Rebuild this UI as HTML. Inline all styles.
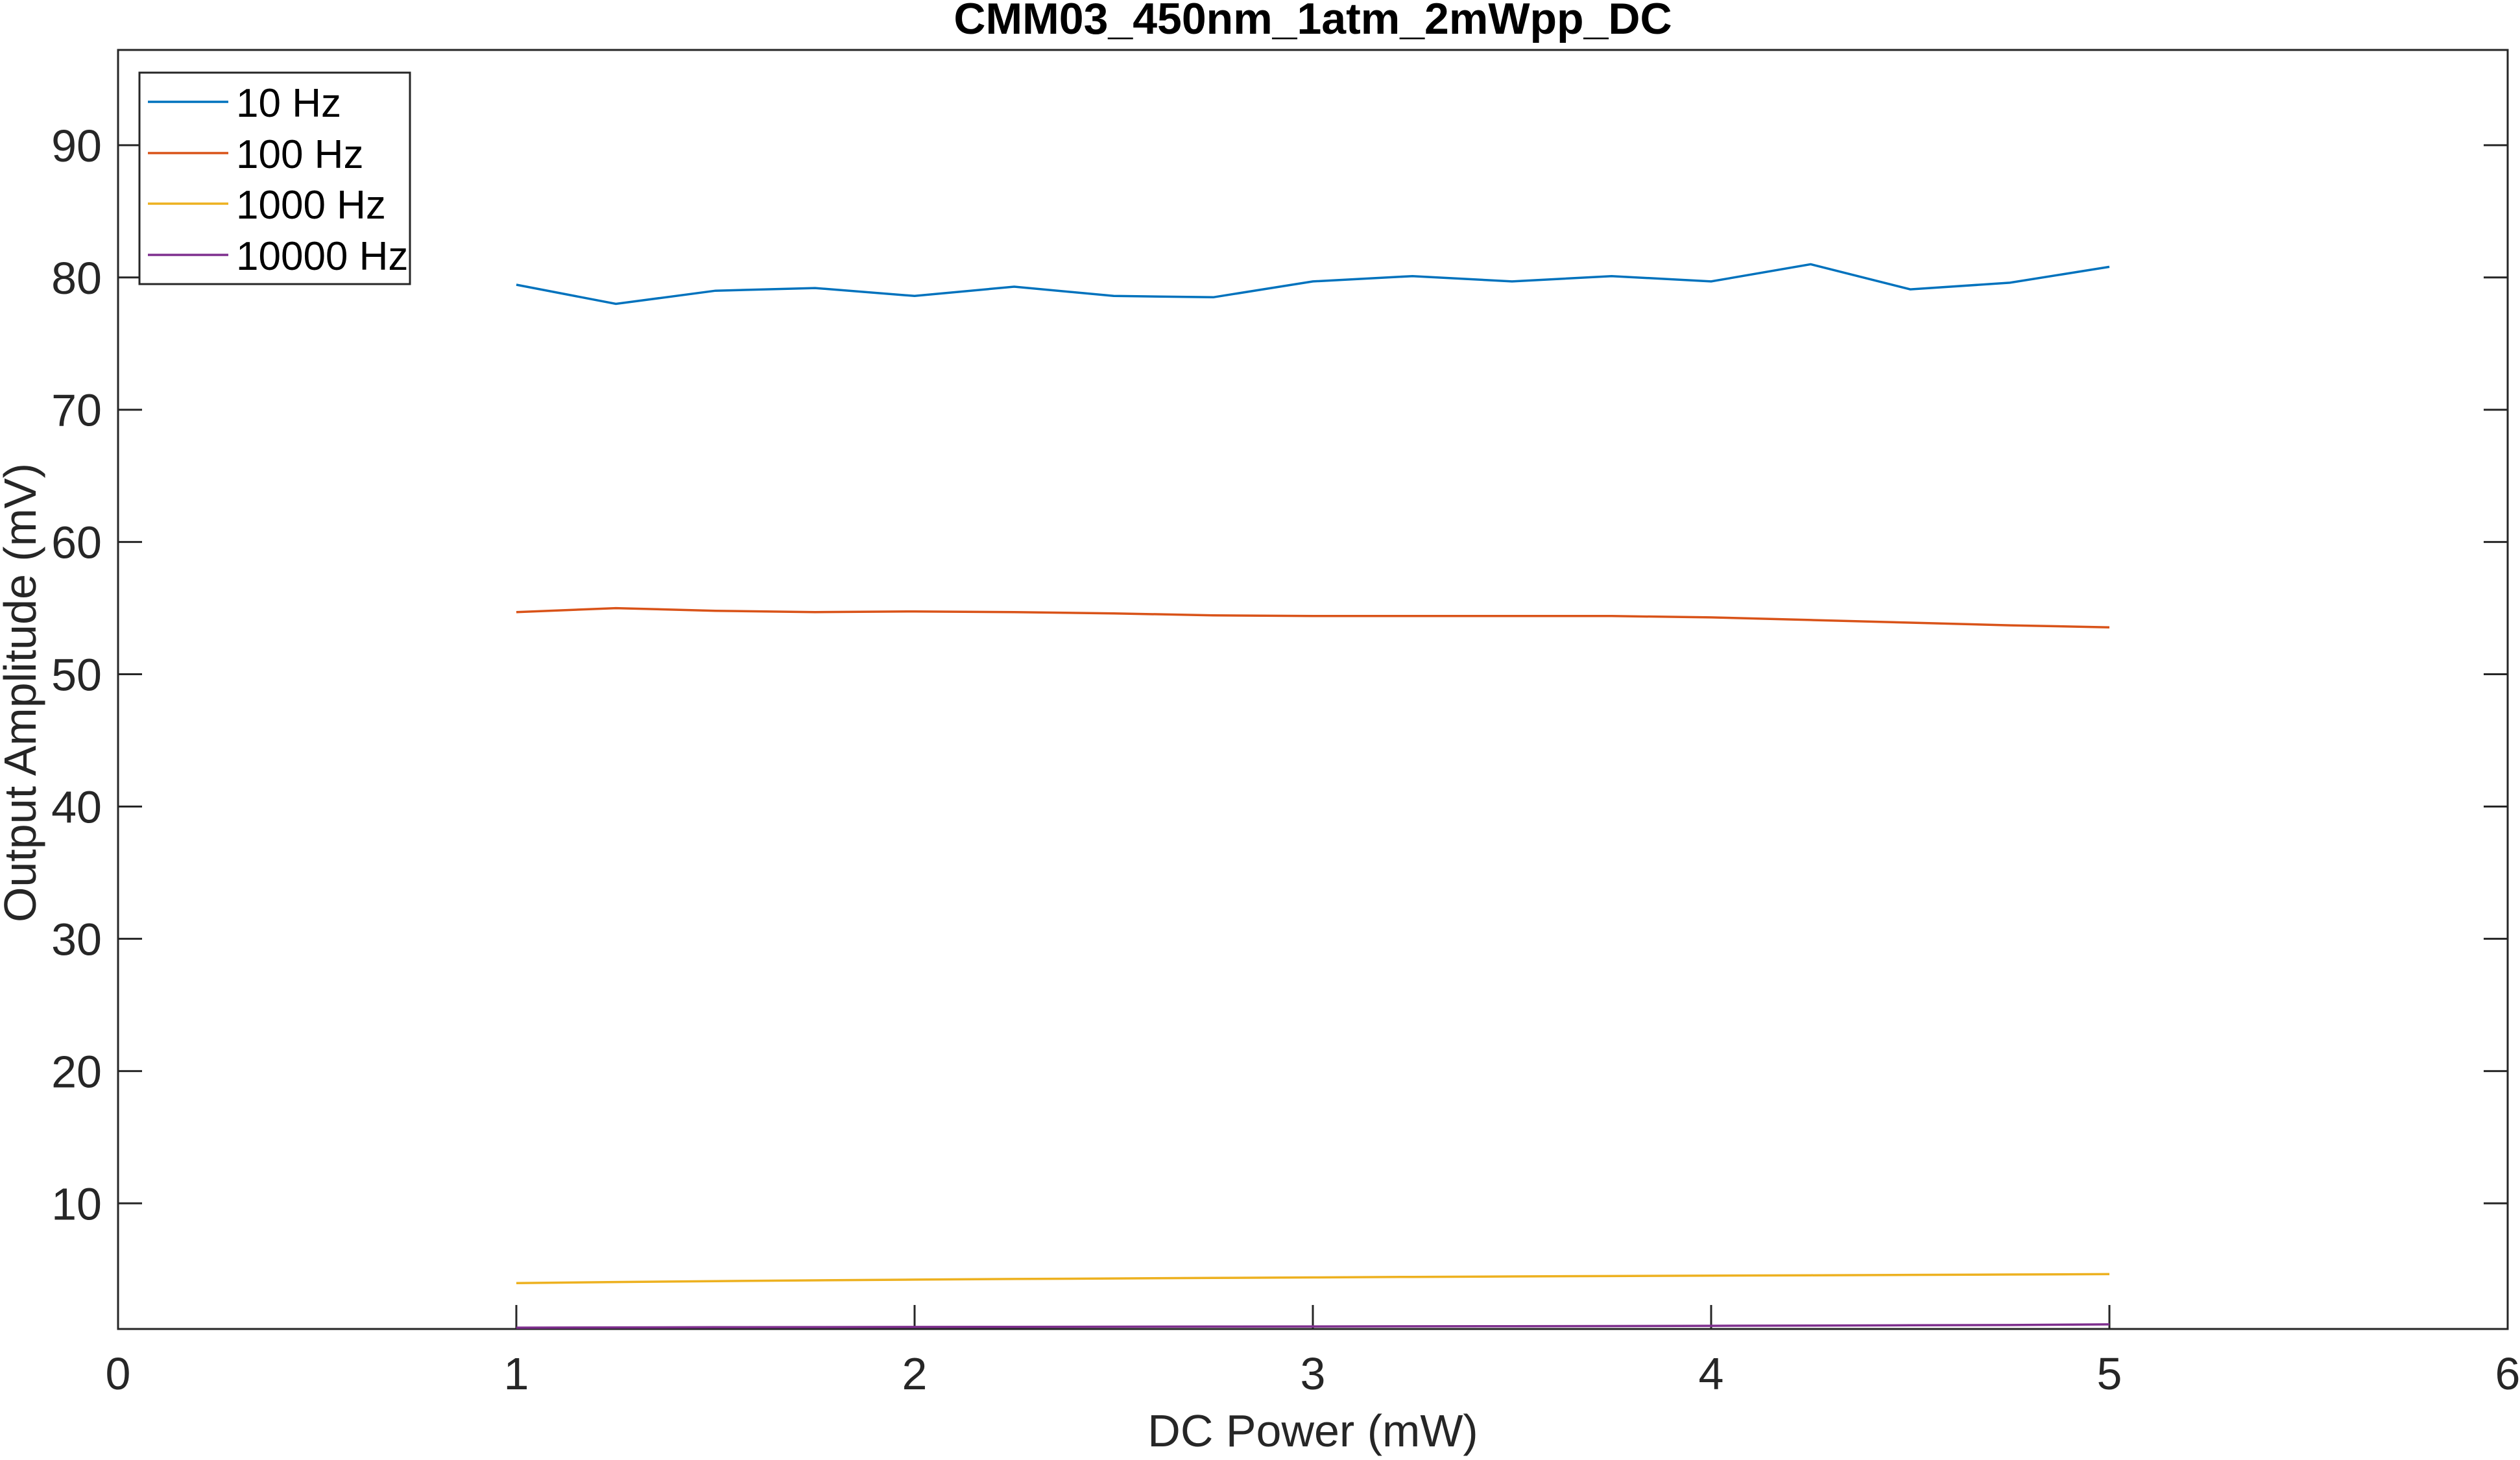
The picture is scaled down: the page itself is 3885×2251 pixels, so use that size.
<!DOCTYPE html>
<html><head><meta charset="utf-8"><style>
html,body{margin:0;padding:0;background:#fff}
svg{display:block;font-family:"Liberation Sans",Arial,sans-serif}
</style></head><body>
<svg id="chart" width="3885" height="2251" viewBox="0 0 3885 2251" xmlns="http://www.w3.org/2000/svg">
<rect x="0" y="0" width="3885" height="2251" fill="#fff"/>
<text x="2024" y="52" text-anchor="middle" font-size="68" font-weight="bold" fill="#000">CMM03_450nm_1atm_2mWpp_DC</text>
<g id="plot"></g>
<text x="2024" y="2230" text-anchor="middle" font-size="70" fill="#262626">DC Power (mW)</text>
<text transform="translate(55,1068) rotate(-90)" text-anchor="middle" font-size="70" fill="#262626">Output Amplitude (mV)</text>
<g id="legend"></g>
</svg>
<script>
const xValues = [1,1.25,1.5,1.75,2,2.25,2.5,2.75,3,3.25,3.5,3.75,4,4.25,4.5,4.75,5];
const s10 = [79.45,78.0,79.0,79.2,78.6,79.3,78.6,78.5,79.7,80.1,79.7,80.1,79.7,81.0,79.1,79.6,80.8];
const s100 = [54.7,55.0,54.8,54.7,54.75,54.7,54.6,54.45,54.4,54.4,54.4,54.4,54.3,54.1,53.9,53.7,53.55];
const s1000 = [3.97,4.05,4.12,4.18,4.23,4.28,4.32,4.36,4.4,4.44,4.47,4.5,4.53,4.56,4.59,4.62,4.65];
const s10000 = [0.6,0.62,0.63,0.64,0.65,0.66,0.67,0.68,0.69,0.7,0.71,0.72,0.74,0.76,0.78,0.8,0.85];
const seriesNames = ["10 Hz","100 Hz","1000 Hz","10000 Hz"];
const xTicks = [0,1,2,3,4,5,6];
const yTicks = [10,20,30,40,50,60,70,80,90];

const NS="http://www.w3.org/2000/svg";
const L=182,R=3866,T=77,B=2049,xMin=0,xMax=6,yMin=0.5,yMax=97.2;
const xs=v=>L+(v-xMin)/(xMax-xMin)*(R-L);
const ys=v=>B-(v-yMin)/(yMax-yMin)*(B-T);
const colors=["#0072BD","#D95319","#EDB120","#7E2F8E"];
const series=[s10,s100,s1000,s10000];
const plot=document.getElementById('plot');
function mk(tag,attrs,parent){const e=document.createElementNS(NS,tag);for(const k in attrs)e.setAttribute(k,attrs[k]);parent.appendChild(e);return e;}

const box=mk('rect',{x:L,y:T,width:R-L,height:B-T,fill:'none',stroke:'#262626','stroke-width':3},plot);



xTicks.forEach(t=>{
  const x=xs(t);
  const tk=mk('line',{x1:x,x2:x,y1:B,y2:B-37,stroke:'#262626','stroke-width':3},plot);
  
  
  const tl=mk('text',{x:x,y:2142,'text-anchor':'middle','font-size':70,fill:'#262626'},plot);
  tl.textContent=t;
  
  
});
yTicks.forEach(t=>{
  const y=ys(t);
  const tk=mk('line',{x1:L,x2:L+37,y1:y,y2:y,stroke:'#262626','stroke-width':3},plot);
  
  
  const tk2=mk('line',{x1:R,x2:R-37,y1:y,y2:y,stroke:'#262626','stroke-width':3},plot);
  
  
  const tl=mk('text',{x:157,y:y+25,'text-anchor':'end','font-size':70,fill:'#262626'},plot);
  tl.textContent=t;
  
  
});
series.forEach((s,i)=>{
  const pts=s.map((v,j)=>xs(xValues[j]).toFixed(1)+','+ys(v).toFixed(1)).join(' ');
  const pl=mk('polyline',{points:pts,fill:'none',stroke:colors[i],'stroke-width':3.5},plot);
  
  
});

const lg=document.getElementById('legend');
const lb=mk('rect',{x:215,y:112,width:417,height:326,fill:'#fff',stroke:'#262626','stroke-width':3},lg);


const ly=[157,236,314,393];
seriesNames.forEach((n,i)=>{
  const ln=mk('line',{x1:228,x2:352,y1:ly[i],y2:ly[i],stroke:colors[i],'stroke-width':3.5},lg);
  
  
  const tx=mk('text',{x:364,y:ly[i]+23,'font-size':62,fill:'#000'},lg);
  tx.textContent=n;
  
  
});
</script>
</body></html>
